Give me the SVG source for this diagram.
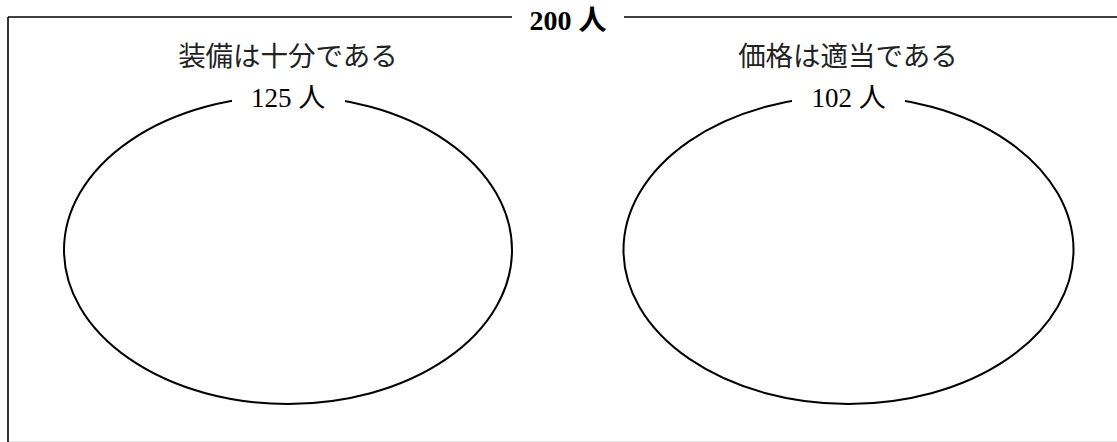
<svg xmlns="http://www.w3.org/2000/svg" width="1117" height="442" viewBox="0 0 1117 442">
<style>
.frame{stroke:#000;stroke-width:1.6;fill:none}
.ell{stroke:#000;stroke-width:2;fill:none}
.gap{fill:#fff;stroke:none}
.title{font-family:"Noto Sans CJK JP","Liberation Serif",serif;font-size:27.5px;fill:#222;text-anchor:middle}
.count{font-family:"Liberation Serif","Noto Sans CJK JP",serif;font-size:27px;fill:#000;text-anchor:middle}
.total{font-family:"Liberation Serif","Noto Sans CJK JP",serif;font-size:28px;font-weight:bold;fill:#000;text-anchor:middle}
</style>
<g id="connectors"></g>
<g id="universe">
<line class="frame" x1="8" y1="17" x2="1117" y2="17"/>
<line class="frame" x1="8" y1="17" x2="8" y2="442"/>
<line x1="9" y1="441.5" x2="1117" y2="441.5" stroke="#e3e3e3" stroke-width="1"/>
<rect class="gap" x="512" y="5" width="112" height="26"/>
<text class="total" x="568" y="29.5">200 人</text>
</g>
<g id="set-equipment">
<text class="title" x="288" y="65.5">装備は十分である</text>
<ellipse class="ell" cx="288" cy="250" rx="224" ry="154"/>
<rect class="gap" x="232" y="86" width="113" height="26"/>
<text class="count" x="288" y="107">125 人</text>
</g>
<g id="set-price">
<text class="title" x="848" y="65.5">価格は適当である</text>
<ellipse class="ell" cx="848.5" cy="250" rx="225" ry="154"/>
<rect class="gap" x="792" y="86" width="113" height="26"/>
<text class="count" x="848.5" y="107">102 人</text>
</g>
</svg>
